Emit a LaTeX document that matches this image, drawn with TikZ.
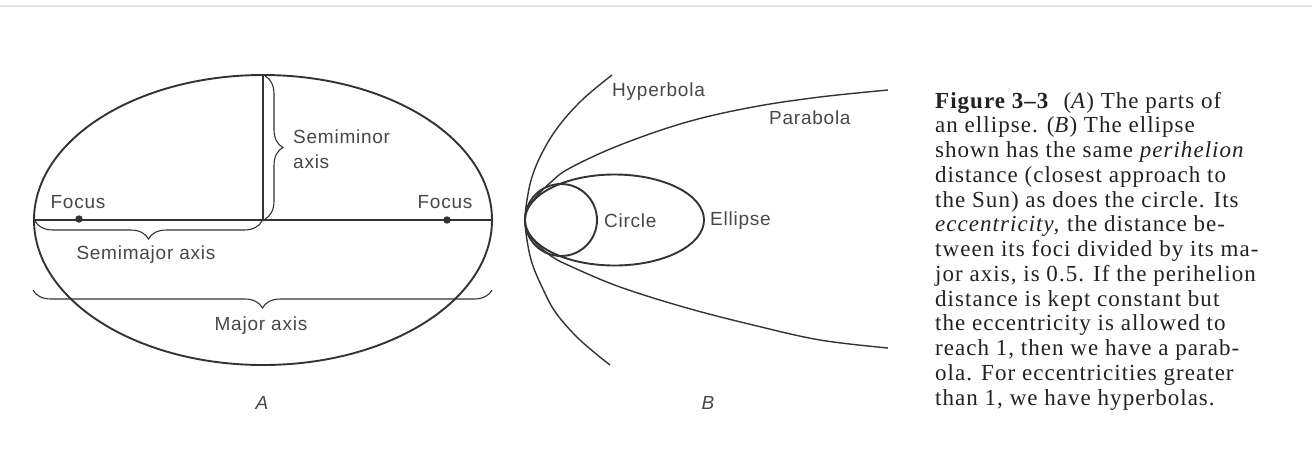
\documentclass[tikz,border=0pt]{standalone}
\usepackage{fontspec}
\setmainfont[LetterSpace=4.5]{Liberation Serif}
\newfontfamily\lblfont[LetterSpace=4]{Liberation Sans}
\usetikzlibrary{decorations.pathreplacing}
\definecolor{ink}{HTML}{333333}
\definecolor{txt}{HTML}{474747}
\definecolor{captxt}{HTML}{222222}
\definecolor{scanline}{HTML}{E2E2E2}
\begin{document}
\begin{tikzpicture}[x=1pt,y=-1pt,
  curve/.style={draw=ink, line width=1.4pt},
  bold curve/.style={draw=ink, line width=1.9pt},
  thinline/.style={draw=ink, line width=1.1pt},
  lbl/.style={text=txt, font=\lblfont\fontsize{19}{22}\selectfont, inner sep=0pt},
  panel/.style={text=txt, font=\lblfont\itshape\fontsize{19}{22}\selectfont, inner sep=0pt},
  brc/.style={thinline, decorate, decoration={brace, amplitude=18pt}},
  mbrc/.style={thinline, decorate, decoration={brace, mirror, amplitude=18pt}},
  capline/.style={text=captxt, font=\fontsize{23}{25}\selectfont, anchor=base west, inner sep=0pt}]
\fill[white] (0,0) rectangle (1312,475);
\useasboundingbox (0,0) rectangle (1312,475);
\draw[scanline, line width=1.2pt] (0,6) -- (1312,6);

% ---------- Panel A ----------
\coordinate (eA) at (263,220);
\draw[bold curve] (eA) ellipse [x radius=229pt, y radius=145pt];
\coordinate (axL) at (34,220);
\coordinate (axR) at (492,220);
\coordinate (top) at (263,75);
\draw[thinline] (axL) -- (axR);
\draw[thinline] (top) -- (eA);
\fill[ink] (79,219) circle [radius=3.7pt];
\fill[ink] (447,220) circle [radius=3.7pt];

\draw[brc] (265,76) -- (265,219);
\draw[mbrc] (35,221) -- (262,221);
\draw[mbrc] (33,290) -- (492,290);

\node[lbl] (f1) at (78,202) {Focus};
\node[lbl] (f2) at (445,202) {Focus};
\node[lbl] (smaj) at (146,255) {Semimajor axis};
\node[lbl, anchor=west] (smin1) at (293,137) {Semiminor};
\node[lbl, anchor=west] (smin2) at (293,162) {axis};
\node[lbl] (maj) at (261,326) {Major axis};
\node[panel] (pA) at (262,403) {A};

% ---------- Panel B ----------
% hyperbola
\draw[curve] plot[smooth, tension=0.6] coordinates {
  (612,75) (582,100) (558,127) (542,153) (532,177) (527,200) (525,220)
  (527,240) (532,263) (542,287) (556,313) (580,340) (610,365)};
% parabola
\draw[curve] plot[smooth, tension=0.6] coordinates {
  (888,90) (820,97) (753,107) (687,122) (620,145) (570,168) (551,182)
  (535,198) (527,210) (525,220) (527,230) (535,242) (551,256) (570,266)
  (620,287) (687,308) (753,325) (820,340) (888,348)};
\draw[bold curve] (614.5,220) ellipse [x radius=89.5pt, y radius=45.5pt];
\draw[bold curve] (561,220) circle [radius=36pt];

\node[lbl, anchor=west] (hyp) at (612,92) {Hyperbola};
\node[lbl, anchor=west] (par) at (769,118) {Parabola};
\node[lbl, anchor=west] (cir) at (604,221) {Circle};
\node[lbl, anchor=west] (ell) at (710,221) {Ellipse};
\node[panel] (pB) at (708,403) {B};

% ---------- Caption ----------
\foreach \ln [count=\i from 0] in {
  {\textbf{Figure 3--3}\hspace{14pt}(\textit{A}) The parts of},
  {an ellipse. (\textit{B}) The ellipse},
  {shown has the same \textit{perihelion}},
  {distance (closest approach to},
  {the Sun) as does the circle. Its},
  {\textit{eccentricity,} the distance be-},
  {tween its foci divided by its ma-},
  {jor axis, is 0.5. If the perihelion},
  {distance is kept constant but},
  {the eccentricity is allowed to},
  {reach 1, then we have a parab-},
  {ola. For eccentricities greater},
  {than 1, we have hyperbolas.}}
  \node[capline] (cap\i) at (935,{108+24.75*\i}) {\ln};
\end{tikzpicture}
\end{document}
